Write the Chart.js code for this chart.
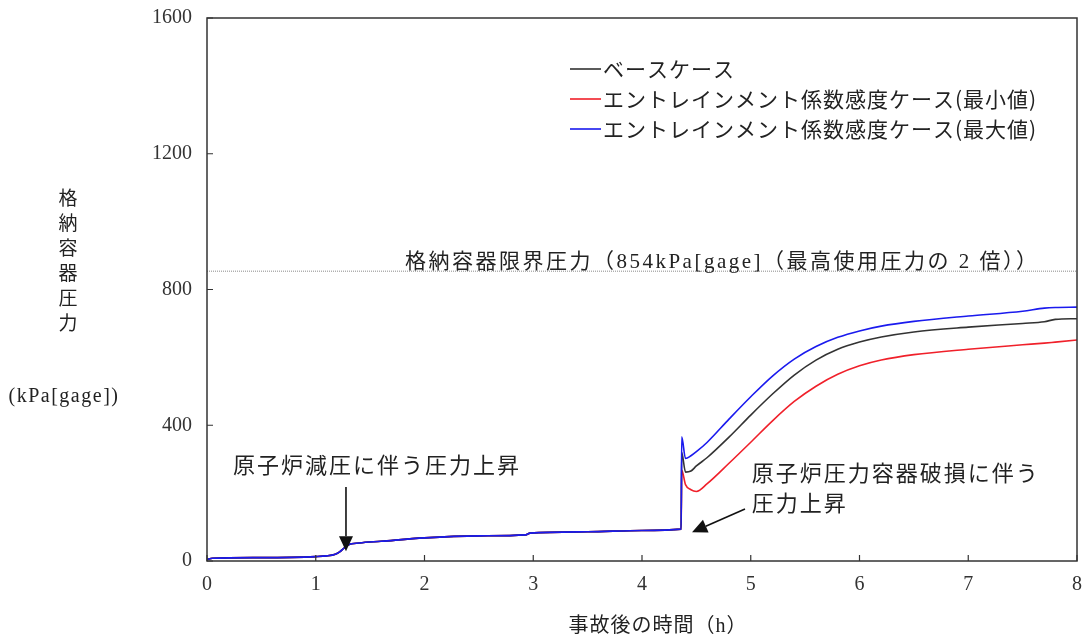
<!DOCTYPE html>
<html lang="ja">
<head>
<meta charset="utf-8">
<script src="https://cdn.jsdelivr.net/npm/chart.js@4.4.1/dist/chart.umd.min.js"></script>
<style>
  html, body { margin: 0; padding: 0; background: #fff; }
  #wrap { width: 1088px; height: 642px; }
</style>
</head>
<body>
<div id="wrap"><canvas id="chart" width="1088" height="642"></canvas></div>
<script>
// Time after the accident (h)
const timeH = [0, 0.05, 0.5, 1.0, 1.1, 1.18, 1.22, 1.26, 1.3, 1.4, 1.6, 2.0, 2.5, 2.93, 2.97, 3.5, 4.0, 4.36,
               4.365, 4.4, 4.45, 4.5, 4.6, 4.8, 5.0, 5.2, 5.4, 5.6, 5.8, 6.0, 6.2, 6.5, 7.0, 7.5, 7.7, 7.8, 8.0];

// Containment pressure (kPa[gage]) for each case
const baseCase = [4, 8, 10, 13, 15, 20, 27, 38, 48, 53, 58, 68, 74, 77, 82, 86, 90, 94,
                  320, 262, 265, 280, 305, 365, 430, 492, 548, 592, 624, 645, 660, 675, 689, 700, 705, 712, 714];
const minCase  = [4, 8, 10, 13, 15, 20, 27, 38, 48, 53, 58, 68, 74, 77, 82, 86, 90, 94,
                  268, 225, 210, 205, 228, 288, 350, 413, 470, 515, 550, 575, 592, 608, 624, 637, 642, 645, 651];
const maxCase  = [4, 8, 10, 13, 15, 20, 27, 38, 48, 53, 58, 68, 74, 77, 82, 86, 90, 94,
                  366, 302, 310, 322, 350, 418, 484, 545, 595, 632, 659, 678, 692, 706, 722, 736, 745, 747, 748];

// Limit pressure line
const limitPressure = 854;

const seriesLabels = ['ベースケース', 'エントレインメント係数感度ケース(最小値)', 'エントレインメント係数感度ケース(最大値)'];
const xTicks = [0, 1, 2, 3, 4, 5, 6, 7, 8];
const yTicks = [0, 400, 800, 1200, 1600];

const serif = '"Liberation Serif", "Noto Sans CJK JP", serif';
const gothic = '"Noto Sans CJK JP", sans-serif';

const toPoints = vals => vals.map((v, i) => ({ x: timeH[i], y: v }));

function lineSet(label, vals, color, order) {
    return {
        label: label,
        data: toPoints(vals),
        borderColor: color,
        borderWidth: 1.6,
        pointRadius: 0,
        cubicInterpolationMode: 'monotone',
        order: order
    };
}

// Annotations, anchored in data units
const notes = {
    limit:   { text: '格納容器限界圧力（854kPa[gage]（最高使用圧力の 2 倍））', x: 1.82, y: 881 },
    depress: { text: '原子炉減圧に伴う圧力上昇', x: 0.24, y: 283,
               from: { x: 1.278, y: 218 }, to: { x: 1.278, y: 29 } },
    rpv:     { lines: ['原子炉圧力容器破損に伴う', '圧力上昇'], x: 5.01, y: [259, 171],
               from: { x: 4.947, y: 153 }, to: { x: 4.46, y: 85 } }
};

function drawArrow(ctx, x1, y1, x2, y2) {
    const ang = Math.atan2(y2 - y1, x2 - x1);
    const len = 15, half = 7;
    const bx = x2 - len * Math.cos(ang), by = y2 - len * Math.sin(ang);
    ctx.beginPath();
    ctx.moveTo(x1, y1);
    ctx.lineTo(bx, by);
    ctx.stroke();
    ctx.beginPath();
    ctx.moveTo(x2, y2);
    ctx.lineTo(bx + half * Math.sin(ang), by - half * Math.cos(ang));
    ctx.lineTo(bx - half * Math.sin(ang), by + half * Math.cos(ang));
    ctx.closePath();
    ctx.fill();
}

const overlay = {
    id: 'overlay',
    afterDraw(chart) {
        const { ctx, chartArea: a, scales: { x, y } } = chart;
        ctx.save();

        // plot frame and inward ticks
        ctx.strokeStyle = '#333';
        ctx.lineWidth = 1.5;
        ctx.strokeRect(a.left, a.top, a.right - a.left, a.bottom - a.top);
        ctx.lineWidth = 1.2;
        ctx.beginPath();
        x.ticks.forEach(t => {
            const px = x.getPixelForValue(t.value);
            ctx.moveTo(px, a.bottom); ctx.lineTo(px, a.bottom - 6);
        });
        y.ticks.forEach(t => {
            const py = y.getPixelForValue(t.value);
            ctx.moveTo(a.left, py); ctx.lineTo(a.left + 6, py);
        });
        ctx.stroke();

        ctx.fillStyle = '#222';
        ctx.textBaseline = 'middle';

        // y axis title, stacked characters
        ctx.textAlign = 'center';
        ctx.font = '19px ' + gothic;
        '格納容器圧力'.split('').forEach((ch, i) => ctx.fillText(ch, 68, 198 + i * 25));
        ctx.font = '20px ' + serif;
        ctx.letterSpacing = '1.5px';
        ctx.fillText('(kPa[gage])', 64, 397);

        // x axis title
        ctx.font = '20px ' + serif;
        ctx.letterSpacing = '1px';
        ctx.fillText('事故後の時間（h）', 658, 627);

        // legend
        ctx.textAlign = 'left';
        ctx.font = '21px ' + gothic;
        chart.data.datasets.slice(0, 3).forEach((ds, i) => {
            const ly = 69 + i * 30;
            ctx.strokeStyle = ds.borderColor;
            ctx.lineWidth = 1.6;
            ctx.beginPath(); ctx.moveTo(570, ly); ctx.lineTo(601, ly); ctx.stroke();
            ctx.fillText(ds.label, 603, ly);
        });

        // limit line label
        ctx.font = '21px ' + serif;
        ctx.letterSpacing = '2.5px';
        ctx.fillText(notes.limit.text, x.getPixelForValue(notes.limit.x), y.getPixelForValue(notes.limit.y));

        // event annotations
        ctx.font = '22px ' + gothic;
        ctx.letterSpacing = '2px';
        ctx.fillStyle = '#222';
        ctx.strokeStyle = '#111';
        ctx.lineWidth = 1.6;
        const d = notes.depress;
        ctx.fillText(d.text, x.getPixelForValue(d.x), y.getPixelForValue(d.y));
        ctx.fillStyle = '#111';
        drawArrow(ctx, x.getPixelForValue(d.from.x), y.getPixelForValue(d.from.y),
                       x.getPixelForValue(d.to.x), y.getPixelForValue(d.to.y));
        const r = notes.rpv;
        ctx.fillStyle = '#222';
        r.lines.forEach((t, i) => ctx.fillText(t, x.getPixelForValue(r.x), y.getPixelForValue(r.y[i])));
        ctx.fillStyle = '#111';
        drawArrow(ctx, x.getPixelForValue(r.from.x), y.getPixelForValue(r.from.y),
                       x.getPixelForValue(r.to.x), y.getPixelForValue(r.to.y));

        ctx.restore();
    }
};

new Chart(document.getElementById('chart'), {
    type: 'line',
    data: {
        datasets: [
            lineSet(seriesLabels[0], baseCase, '#333333', 1),
            lineSet(seriesLabels[1], minCase, '#f0202a', 2),
            lineSet(seriesLabels[2], maxCase, '#1a1aee', 0),
            {
                label: 'limit',
                data: [{ x: xTicks[0], y: limitPressure }, { x: xTicks[xTicks.length - 1], y: limitPressure }],
                borderColor: '#8a8a8a',
                borderWidth: 1,
                borderDash: [1, 1],
                pointRadius: 0,
                order: 3
            }
        ]
    },
    options: {
        responsive: false,
        animation: false,
        layout: { padding: { top: 18, right: 11, left: 0, bottom: 0 } },
        plugins: { legend: { display: false }, tooltip: { enabled: false } },
        scales: {
            x: {
                type: 'linear',
                min: xTicks[0],
                max: xTicks[xTicks.length - 1],
                afterBuildTicks: s => { s.ticks = xTicks.map(v => ({ value: v })); },
                afterFit: s => { s.height = 81; s.paddingLeft = 0; s.paddingRight = 0; },
                grid: { display: false, drawTicks: false },
                border: { display: false },
                ticks: { color: '#333', padding: 12, font: { family: serif, size: 20 }, callback: v => String(v) }
            },
            y: {
                type: 'linear',
                min: yTicks[0],
                max: yTicks[yTicks.length - 1],
                afterBuildTicks: s => { s.ticks = yTicks.map(v => ({ value: v })); },
                afterFit: s => { s.width = 207; s.paddingTop = 0; s.paddingBottom = 0; },
                grid: { display: false, drawTicks: false },
                border: { display: false },
                ticks: { color: '#333', padding: 15, font: { family: serif, size: 20 }, callback: v => String(v) }
            }
        }
    },
    plugins: [overlay]
});
</script>
</body>
</html>
